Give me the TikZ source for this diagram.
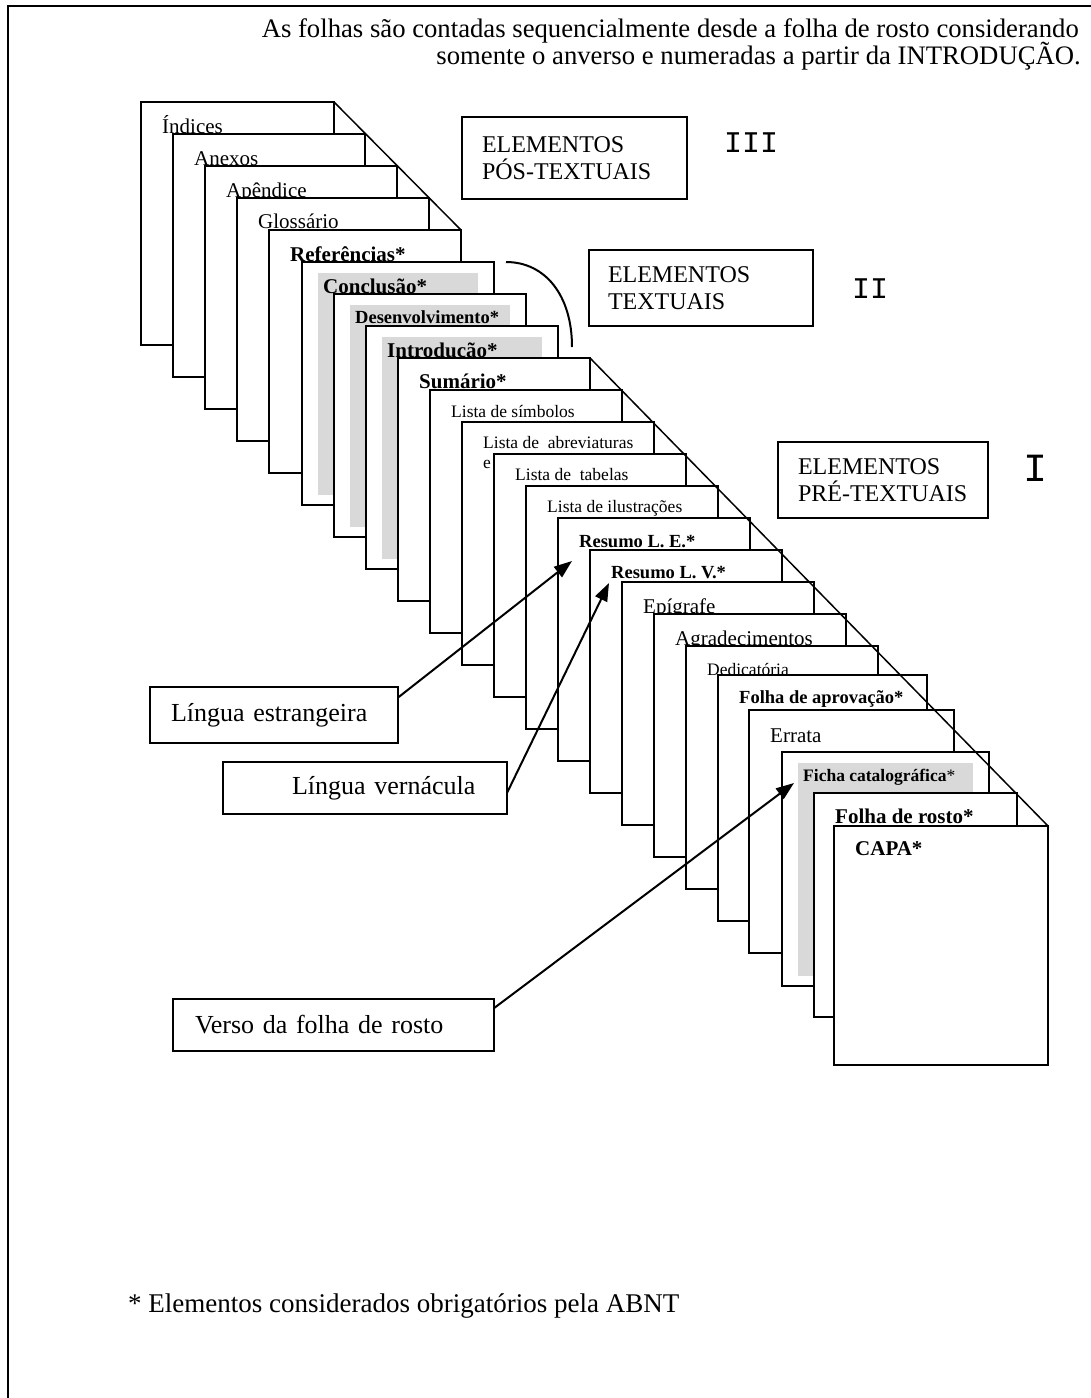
\documentclass[tikz,border=0pt]{standalone}
\usepackage{fontspec}
\setmainfont{Liberation Serif}
\newfontfamily\monofont{Liberation Mono}
\usepackage{tikz}
\usetikzlibrary{arrows.meta,
                positioning}
\definecolor{cinzaclaro}{RGB}{217,217,217}
\newcommand{\tam}[2]{\fontsize{#1}{#2}\selectfont}
\newcommand{\folha}[8]{%
    \node[sheet, minimum width=#4-#2, minimum height=#5-#3] (#1) at (#2,#3) {};
    \node[rotulo, #7] (#1t) at ({#2+21},{#3+#6}) {#8};
}
\newcommand{\folhacinza}[8]{%
    \node[sheet, minimum width=#4-#2, minimum height=#5-#3] (#1) at (#2,#3) {};
    \fill[cinzaclaro] ({#2+16},{#3+11}) rectangle ({#4-16},{#5-10});
    \node[rotulo, #7] (#1t) at ({#2+21},{#3+#6}) {#8};
}
\tikzstyle{linha} = [line width=2pt]
\tikzstyle{sheet} = [linha, draw, fill=white, anchor=north west, inner sep=0pt, outer sep=0pt]
\tikzstyle{rotulo} = [anchor=base west, inner sep=0pt]
\tikzstyle{txtg} = [font=\tam{21}{25}]
\tikzstyle{txtgb} = [font=\tam{21}{25}\bfseries]
\tikzstyle{txtp} = [font=\tam{17.5}{21}]
\tikzstyle{txtpb} = [font=\tam{18.5}{22}\bfseries]
\tikzstyle{caixa} = [linha, draw, fill=white, anchor=north west, align=left, inner ysep=0pt, outer sep=0pt]
\tikzstyle{seta} = [linha, ->, >={Triangle[length=18pt,width=13pt]}]

\begin{document}
\begin{tikzpicture}[x=1pt, y=-1pt]

    \path[fill=white, use as bounding box] (0,0) rectangle (1091,1398);

    \coordinate (mA) at (8,1398);
    \coordinate (mB) at (8,6);
    \coordinate (mC) at (1091,6);
    \draw[linha] (mA) -- (mB) -- (mC);

    \node[anchor=base east, inner sep=0pt, font=\tam{26.7}{30}] (topo1) at (1079,37) {As folhas são contadas sequencialmente desde a folha de rosto considerando};
    \node[anchor=base east, inner sep=0pt, font=\tam{26.7}{30}] (topo2) at (1081,64) {somente o anverso e numeradas a partir da INTRODUÇÃO.};

    \folha{s0}{141}{102}{334}{345}{31}{txtg}{Índices}
    \folha{s1}{173}{134}{365}{377}{31}{txtg}{Anexos}
    \folha{s2}{205}{166}{397}{409}{31}{txtg}{Apêndice}
    \folha{s3}{237}{198}{429}{441}{30}{txtg}{Glossário}
    \folha{s4}{269}{230}{461}{473}{31}{txtgb}{Referências*}
    \folhacinza{s5}{302}{262}{494}{505}{31}{txtgb}{Conclusão*}
    \folhacinza{s6}{334}{294}{526}{537}{29}{txtpb}{Desenvolvimento*}
    \folhacinza{s7}{366}{326}{558}{569}{31}{txtgb}{Introdução*}
    \folha{s8}{398}{358}{590}{601}{30}{txtgb}{Sumário*}
    \folha{s9}{430}{390}{622}{633}{27}{txtp}{Lista de símbolos}
    \folha{s10}{462}{422}{654}{665}{26}{txtp}{Lista de \ abreviaturas}
    \node[rotulo, txtp] (s10e) at (483,468) {e};
    \folha{s11}{494}{454}{686}{697}{26}{txtp}{Lista de \ tabelas}
    \folha{s12}{526}{486}{718}{729}{26}{txtp}{Lista de ilustrações}
    \folha{s13}{558}{518}{750}{761}{29}{txtpb}{Resumo L. E.*}
    \folha{s14}{590}{550}{782}{793}{28}{txtpb}{Resumo L. V.*}
    \folha{s15}{622}{582}{814}{825}{31}{txtg}{Epígrafe}
    \folha{s16}{654}{614}{846}{857}{31}{txtg}{Agradecimentos}
    \folha{s17}{686}{646}{878}{889}{29}{txtp}{Dedicatória}
    \folha{s18}{718}{675}{927}{921}{28}{txtpb}{Folha de aprovação*}
    \folha{s19}{749}{710}{954}{953}{32}{txtg}{Errata}
    \folhacinza{s20}{782}{752}{989}{986}{29}{txtp}{\textbf{Ficha catalográfica}*}
    \folha{s21}{814}{793}{1017}{1017}{30}{txtgb}{Folha de rosto*}
    \folha{s22}{834}{826}{1048}{1065}{29}{txtgb}{CAPA*}

    \draw[line width=1.5pt] (s0.north east) -- (s4.north east);
    \draw[line width=1.5pt] (s8.north east) -- (s22.north east);

    \coordinate (arcA) at (506,262);
    \coordinate (arcB) at (572,347);
    \draw[linha] (arcA) .. controls +(39,0) and +(0,-52) .. (arcB);

    \node[caixa, minimum width=225, minimum height=82, text width=185, inner xsep=20, font=\tam{24}{27}] (pos) at (462,117) {ELEMENTOS\\PÓS-TEXTUAIS};
    \node[caixa, minimum width=224, minimum height=76, text width=186, inner xsep=19, font=\tam{24}{27}] (tex) at (589,250) {ELEMENTOS\\TEXTUAIS};
    \node[caixa, minimum width=210, minimum height=76, text width=170, inner xsep=20, font=\tam{24}{27}] (pre) at (778,442) {ELEMENTOS\\PRÉ-TEXTUAIS};

    \node[rotulo, font=\monofont\tam{30}{30}] (n3) at (724,152) {III};
    \node[rotulo, font=\monofont\tam{30}{30}] (n2) at (852,298) {II};
    \node[rotulo, font=\monofont\tam{40}{40}] (n1) at (1023,481) {I};

    \node[caixa, minimum width=248, minimum height=56, text width=206, inner xsep=21, font=\tam{26}{30}] (le) at (150,687) {Língua estrangeira};
    \node[caixa, minimum width=284, minimum height=52, text width=242, inner xsep=21, font=\tam{26}{30}] (lv) at (223,762) {\hspace*{48pt}Língua vernácula};
    \node[caixa, minimum width=321, minimum height=52, text width=277, inner xsep=22, font=\tam{26}{30}] (vr) at (173,999) {Verso da folha de rosto};

    \coordinate (tipLE) at (572,561);
    \coordinate (tipLV) at (609,583);
    \coordinate (tipVR) at (794,783);
    \draw[seta] (le.8) -- (tipLE);
    \draw[seta] (lv.-2) -- (tipLV);
    \draw[seta] (vr.6) -- (tipVR);

    \node[rotulo, font=\tam{27}{30}] (nota) at (128,1312) {* Elementos considerados obrigatórios pela ABNT};

\end{tikzpicture}
\end{document}
